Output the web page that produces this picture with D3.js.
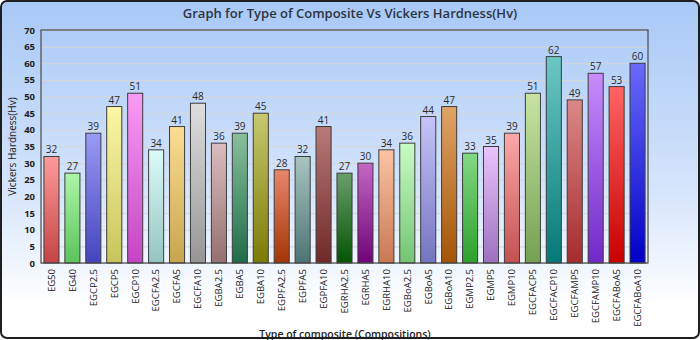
<!DOCTYPE html>
<html>
<head>
<meta charset="utf-8">
<script src="https://cdn.jsdelivr.net/npm/d3@7"></script>
<style>
  body { margin: 0; background: #fff; }
  svg { display: block; }
</style>
</head>
<body>
<svg width="700" height="340"></svg>
<script>
// composites and their hardness values
const categories = ['EG50', 'EG40', 'EGCP2.5', 'EGCP5', 'EGCP10', 'EGCFA2.5', 'EGCFA5', 'EGCFA10',
  'EGBA2.5', 'EGBA5', 'EGBA10', 'EGPFA2.5', 'EGPFA5', 'EGPFA10', 'EGRHA2.5', 'EGRHA5', 'EGRHA10',
  'EGBoA2.5', 'EGBoA5', 'EGBoA10', 'EGMP2.5', 'EGMP5', 'EGMP10', 'EGCFACP5', 'EGCFACP10',
  'EGCFAMP5', 'EGCFAMP10', 'EGCFABoA5', 'EGCFABoA10']
const hardness = [32, 27, 39, 47, 51, 34, 41, 48, 36, 39, 45, 28, 32, 41, 27, 30, 34,
  36, 44, 47, 33, 35, 39, 51, 62, 49, 57, 53, 60]
const yTicks = [0, 5, 10, 15, 20, 25, 30, 35, 40, 45, 50, 55, 60, 65, 70]

// top (light) / bottom (dark) colour of each bar
const topColors = ['#ff9a9a', '#adf5a8', '#9a9af5', '#fbf7a6', '#f99cf5', '#dcfbf9', '#fbdd95', '#dedede',
  '#dbbdbd', '#88c09c', '#c8c870', '#e8876c', '#a9c4c0', '#b87a7a', '#6a9e6a', '#c466c4', '#fcc4a4',
  '#c8fcc4', '#c6c4fa', '#e0a468', '#84d884', '#eac4fa', '#fca8a8', '#c8e4a4', '#6cc8c4',
  '#dc8888', '#c88cfc', '#ff6464', '#6a6afc']
const bottomColors = ['#c44444', '#5cc35c', '#4444c0', '#c8c45c', '#c444c4', '#94c4c0', '#c8a44c', '#969696',
  '#947070', '#206c48', '#7c7a04', '#a43404', '#4c7474', '#702828', '#045404', '#700478', '#c87854',
  '#74c474', '#7474c0', '#a45404', '#2ca02c', '#9c70c0', '#c45050', '#74a050', '#047878',
  '#a42c2c', '#7028c8', '#c80000', '#0000c8']

const svg = d3.select('svg')
const W = 700, H = 340

const defs = svg.append('defs')
const bg = defs.append('linearGradient').attr('id', 'bg')
  .attr('x1', 0).attr('y1', 0).attr('x2', 0).attr('y2', 1)
bg.append('stop').attr('offset', '0%').attr('stop-color', '#a8c8f6')
bg.append('stop').attr('offset', '55%').attr('stop-color', '#d4e4fb')
bg.append('stop').attr('offset', '90%').attr('stop-color', '#ffffff')

categories.forEach((c, i) => {
  const g = defs.append('linearGradient').attr('id', 'bar' + i)
    .attr('x1', 0).attr('y1', 0).attr('x2', 0).attr('y2', 1)
  g.append('stop').attr('offset', '0%').attr('stop-color', topColors[i])
  g.append('stop').attr('offset', '100%').attr('stop-color', bottomColors[i])
})

svg.append('rect')
  .attr('x', 1).attr('y', 1).attr('width', W - 2).attr('height', H - 3)
  .attr('rx', 6)
  .attr('fill', 'url(#bg)')

const margin = { top: 30, left: 41, right: 52, bottom: 77 }
const width = W - margin.left - margin.right
const height = H - margin.top - margin.bottom

const chart = svg.append('g')
  .attr('transform', `translate(${margin.left}, ${margin.top})`)

const xScale = d3.scaleBand()
  .range([0, width])
  .domain(categories)
  .paddingInner(0.28)
  .paddingOuter(0.14)

const yScale = d3.scaleLinear()
  .range([height, 0])
  .domain([0, 70])

// grid
chart.append('g')
  .attr('class', 'grid')
  .call(d3.axisLeft(yScale).tickValues(yTicks).tickSize(-width).tickFormat(''))
  .call(g => g.select('.domain').remove())
  .call(g => g.selectAll('line').attr('stroke', '#d6d6d6'))

// bars
const barGroups = chart.selectAll('.barg')
  .data(hardness)
  .enter()
  .append('g')

barGroups.append('rect')
  .attr('class', 'bar')
  .attr('x', (d, i) => xScale(categories[i]))
  .attr('y', d => yScale(d))
  .attr('width', xScale.bandwidth())
  .attr('height', d => height - yScale(d))
  .attr('fill', (d, i) => `url(#bar${i})`)
  .attr('stroke', '#3c3c3c')
  .attr('stroke-width', 1)

barGroups.append('text')
  .attr('x', (d, i) => xScale(categories[i]) + xScale.bandwidth() / 2)
  .attr('y', d => yScale(d) - 3)
  .attr('text-anchor', 'middle')
  .attr('font-family', 'Open Sans, sans-serif')
  .attr('font-size', 10)
  .attr('fill', '#2a2a2a')
  .text(d => d)

// plot frame
chart.append('rect')
  .attr('width', width).attr('height', height)
  .attr('fill', 'none')
  .attr('stroke', '#4a4a4a')
  .attr('stroke-width', 1.2)

// y axis
const yAxis = chart.append('g')
  .call(d3.axisLeft(yScale).tickValues(yTicks).tickSize(0).tickPadding(6))
yAxis.select('.domain').remove()
yAxis.selectAll('text')
  .attr('font-family', 'Open Sans, sans-serif')
  .attr('font-weight', 700)
  .attr('font-size', 9.5)
  .attr('fill', '#222')

// x axis
const xAxis = chart.append('g')
  .attr('transform', `translate(0, ${height})`)
  .call(d3.axisBottom(xScale).tickSize(0))
xAxis.select('.domain').remove()
xAxis.selectAll('text')
  .attr('font-family', 'Open Sans, sans-serif')
  .attr('font-size', 9.5)
  .attr('fill', '#222')
  .attr('text-anchor', 'end')
  .attr('transform', 'rotate(-90)')
  .attr('x', -6)
  .attr('y', 0)
  .attr('dy', '0.35em')

// titles
svg.append('text')
  .attr('x', 350).attr('y', 18)
  .attr('text-anchor', 'middle')
  .attr('font-family', 'Open Sans, sans-serif')
  .attr('font-weight', 600)
  .attr('font-size', 13)
  .attr('fill', '#2e3440')
  .text('Graph for Type of Composite Vs Vickers Hardness(Hv)')

svg.append('text')
  .attr('transform', `translate(16, ${margin.top + height / 2}) rotate(-90)`)
  .attr('text-anchor', 'middle')
  .attr('font-family', 'Open Sans, sans-serif')
  .attr('font-size', 10)
  .attr('fill', '#222')
  .text('Vickers Hardness(Hv)')

svg.append('text')
  .attr('x', 345).attr('y', 338)
  .attr('text-anchor', 'middle')
  .attr('font-family', 'Open Sans, sans-serif')
  .attr('font-weight', 600)
  .attr('font-size', 10.5)
  .attr('fill', '#222')
  .text('Type of composite (Compositions)')

// outer border
svg.append('rect')
  .attr('x', 1).attr('y', 1).attr('width', W - 2).attr('height', H - 3)
  .attr('rx', 6)
  .attr('fill', 'none')
  .attr('stroke', '#1e1e1e')
  .attr('stroke-width', 2)
</script>
</body>
</html>
